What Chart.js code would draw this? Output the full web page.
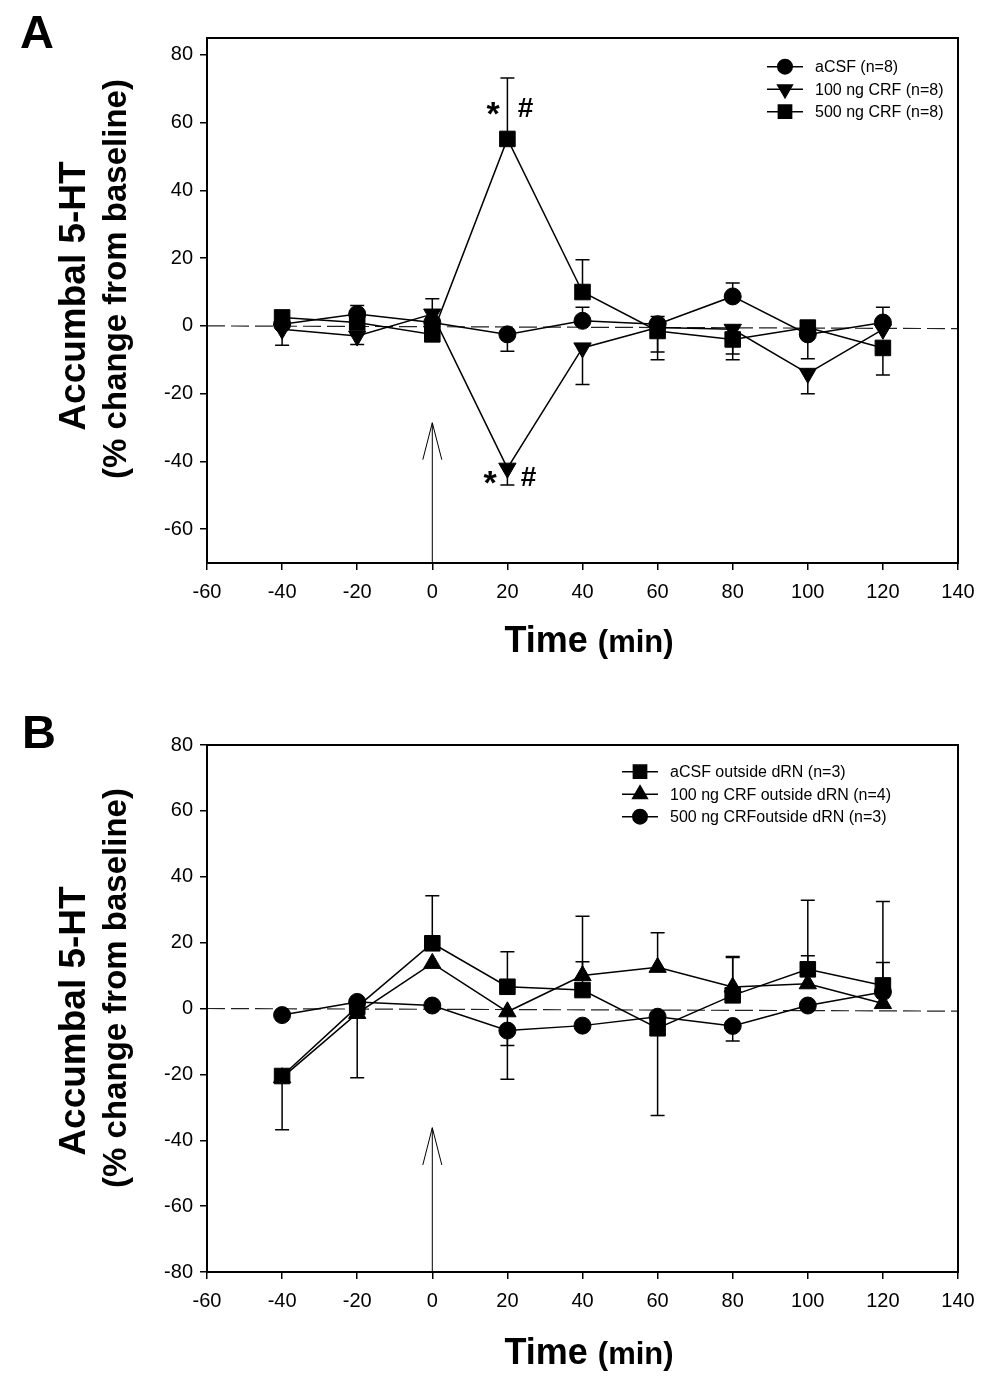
<!DOCTYPE html>
<html>
<head>
<meta charset="utf-8">
<script src="https://cdn.jsdelivr.net/npm/chart.js@4.4.1/dist/chart.umd.min.js"></script>
<style>
  html, body { margin: 0; padding: 0; background: #fff; }
  canvas { display: block; }
</style>
</head>
<body>
<canvas id="chartA" width="996" height="690"></canvas>
<canvas id="chartB" width="996" height="691"></canvas>
<script>
// data (time in min, % change from baseline)
const times = [-40, -20, 0, 20, 40, 60, 80, 100, 120];
const xTicks = [-60, -40, -20, 0, 20, 40, 60, 80, 100, 120, 140];
const yTicksA = [-60, -40, -20, 0, 20, 40, 60, 80];
const yTicksB = [-80, -60, -40, -20, 0, 20, 40, 60, 80];

// panel A, error values are signed: + drawn up, - drawn down
const aCSF_A      = [0.5, 3.5, 1, -2.5, 1.5, 0.5, 8.7, -2.5, 1];
const aCSF_A_err  = [0, 2.5, 0, -5, 4, 2.3, 4, -7.2, 4.5];
const crf100_A     = [-1, -3, 3.5, -42, -6.5, -0.5, -1, -14, -1];
const crf100_A_err = [-4.7, -2.5, 4.5, -5, -10.8, -7.2, -7.3, -6, 0];
const crf500_A     = [2.5, 1, -2.5, 55.2, 10, -1.5, -4, -0.5, -6.5];
const crf500_A_err = [2, 0, 0, 18, 9.5, -8.5, -6, 0, -8];

// panel B
const aCSF_B      = [-20.5, 0.5, 19.8, 6.6, 5.6, -6, 4, 11.9, 7];
const aCSF_B_err  = [-16.3, 0, 14.4, 10.6, 8.6, -26.5, 11.8, 21, 25.5];
const crf100_B     = [-21, -1.5, 13.7, -1, 10, 12.5, 6.5, 7.5, 1.5];
const crf100_B_err = [0, -19.5, 0, -20.5, 18, 10.5, 9, 8.5, 0];
const crf500_B     = [-2, 2, 0.9, -6.7, -5.2, -2.5, -5.3, 0.9, 5];
const crf500_B_err = [0, 0, 0, -4.5, 0, 0, -4.6, 0, 9];

// dashed baseline and injection arrow
const baselineX = [-60, 140];
const baselineY = [0, -0.8];
const arrowA = { x: 0, tip: -28.6, barb: -39.5 };
const arrowB = { x: 0, tip: -36.2, barb: -47.5 };

// significance marks in panel A
const marksA = [
  { text: '*', x: 16.2, y: 64 },
  { text: '#', x: 24.8, y: 64 },
  { text: '*', x: 15.4, y: -45 },
  { text: '#', x: 25.6, y: -45 }
];

const FONT = "'Liberation Sans', Arial, Helvetica, sans-serif";

function series(label, values, errs, style, rotation, radius) {
  return {
    label: label,
    data: times.map((t, i) => ({ x: t, y: values[i] })),
    errs: errs,
    legend: true,
    borderColor: '#000',
    backgroundColor: '#000',
    borderWidth: 1.5,
    pointStyle: style,
    pointRotation: rotation,
    pointRadius: radius,
    pointHoverRadius: radius,
    pointBorderWidth: 1,
    showLine: true,
    tension: 0,
    order: 1
  };
}

function baseline() {
  return {
    label: 'baseline',
    data: baselineX.map((x, i) => ({ x: x, y: baselineY[i] })),
    borderColor: '#222',
    borderWidth: 1.2,
    borderDash: [18, 6],
    pointRadius: 0,
    showLine: true,
    order: 10
  };
}

const errorBars = {
  id: 'errorBars',
  beforeDatasetsDraw(chart) {
    const ctx = chart.ctx, xs = chart.scales.x, ys = chart.scales.y;
    ctx.save();
    ctx.strokeStyle = '#000';
    ctx.lineWidth = 1.5;
    chart.data.datasets.forEach(ds => {
      if (!ds.errs) return;
      ds.data.forEach((p, i) => {
        const e = ds.errs[i];
        if (!e) return;
        const px = xs.getPixelForValue(p.x);
        const y0 = ys.getPixelForValue(p.y);
        const y1 = ys.getPixelForValue(p.y + e);
        ctx.beginPath();
        ctx.moveTo(px, y0); ctx.lineTo(px, y1);
        ctx.moveTo(px - 7, y1); ctx.lineTo(px + 7, y1);
        ctx.stroke();
      });
    });
    ctx.restore();
  }
};

function marker(ctx, style, rot, r, x, y) {
  if (Chart.helpers && Chart.helpers.drawPoint) {
    Chart.helpers.drawPoint(ctx, { pointStyle: style, rotation: rot, radius: r, borderWidth: 1 }, x, y);
  }
}

const decor = {
  id: 'decor',
  afterDraw(chart, args, o) {
    const ctx = chart.ctx, a = chart.chartArea;
    const xs = chart.scales.x, ys = chart.scales.y;
    ctx.save();
    // frame
    ctx.strokeStyle = '#000';
    ctx.lineWidth = 2;
    ctx.strokeRect(a.left, a.top, a.right - a.left, a.bottom - a.top);

    // arrow at injection time
    const ax = xs.getPixelForValue(o.arrow.x);
    const tip = ys.getPixelForValue(o.arrow.tip);
    const barb = ys.getPixelForValue(o.arrow.barb);
    ctx.lineWidth = 1;
    ctx.beginPath();
    ctx.moveTo(ax, a.bottom); ctx.lineTo(ax, tip);
    ctx.moveTo(ax - 9.5, barb); ctx.lineTo(ax, tip); ctx.lineTo(ax + 9.5, barb);
    ctx.stroke();

    // significance marks
    ctx.fillStyle = '#000';
    ctx.textAlign = 'center';
    ctx.textBaseline = 'middle';
    (o.marks || []).forEach(m => {
      ctx.font = (m.text === '*' ? 'bold 34px ' : 'bold 28px ') + FONT;
      const dy = m.text === '*' ? 6 : 0;
      ctx.fillText(m.text, xs.getPixelForValue(m.x), ys.getPixelForValue(m.y) + dy);
    });

    // legend
    ctx.textAlign = 'left';
    ctx.font = '16px ' + FONT;
    const lx = a.right - o.legendDx;
    let row = 0;
    chart.data.datasets.forEach(ds => {
      if (!ds.legend) return;
      const ly = a.top + o.legendTop + row * 22.5;
      ctx.lineWidth = 1.5;
      ctx.beginPath(); ctx.moveTo(lx - 18, ly); ctx.lineTo(lx + 18, ly); ctx.stroke();
      marker(ctx, ds.pointStyle, ds.pointRotation, ds.pointRadius * 0.85, lx, ly);
      ctx.fillText(ds.label, lx + 30, ly + 1);
      row++;
    });

    // panel letter
    ctx.textBaseline = 'alphabetic';
    ctx.font = 'bold 47px ' + FONT;
    ctx.fillText(o.letter, o.letterX, o.letterY);

    // y axis title, two lines
    ctx.textAlign = 'center';
    ctx.save();
    ctx.translate(85, o.yTitle1);
    ctx.rotate(-Math.PI / 2);
    ctx.font = 'bold 37px ' + FONT;
    ctx.fillText('Accumbal 5-HT', 0, 0);
    ctx.restore();
    ctx.save();
    ctx.translate(126, o.yTitle2);
    ctx.rotate(-Math.PI / 2);
    ctx.font = 'bold 33px ' + FONT;
    ctx.fillText('(% change from baseline)', 0, 0);
    ctx.restore();

    // x axis title
    ctx.textAlign = 'left';
    ctx.font = 'bold 36px ' + FONT;
    const w1 = ctx.measureText('Time ').width;
    ctx.font = 'bold 31px ' + FONT;
    const w2 = ctx.measureText('(min)').width;
    const sx = 589 - (w1 + w2) / 2;
    ctx.font = 'bold 36px ' + FONT;
    ctx.fillText('Time ', sx, o.xTitleY);
    ctx.font = 'bold 31px ' + FONT;
    ctx.fillText('(min)', sx + w1, o.xTitleY);
    ctx.restore();
  }
};

function makeChart(id, datasets, yMin, yMax, yTicks, padTop, xAxisH, deco) {
  return new Chart(document.getElementById(id), {
    type: 'line',
    data: { datasets: datasets },
    plugins: [errorBars, decor],
    options: {
      responsive: false,
      animation: false,
      events: [],
      layout: { padding: { left: 0, right: 38, top: padTop, bottom: 0 } },
      plugins: {
        legend: { display: false },
        tooltip: { enabled: false },
        decor: deco
      },
      scales: {
        x: {
          type: 'linear', min: -60, max: 140,
          afterBuildTicks: s => { s.ticks = xTicks.map(v => ({ value: v })); },
          afterFit: s => { s.height = xAxisH; },
          ticks: { color: '#000', font: { family: FONT, size: 20 }, padding: 10, maxRotation: 0 },
          grid: { drawOnChartArea: false, drawTicks: true, tickLength: 7, color: '#000', lineWidth: 1.5 },
          border: { display: true, color: '#000', width: 2 }
        },
        y: {
          type: 'linear', min: yMin, max: yMax,
          afterBuildTicks: s => { s.ticks = yTicks.map(v => ({ value: v })); },
          afterFit: s => { s.width = 207; },
          ticks: { color: '#000', font: { family: FONT, size: 20 }, padding: 7 },
          grid: { drawOnChartArea: false, drawTicks: true, tickLength: 7, color: '#000', lineWidth: 1.5 },
          border: { display: true, color: '#000', width: 2 }
        }
      }
    }
  });
}

makeChart('chartA', [
  series('aCSF (n=8)', aCSF_A, aCSF_A_err, 'circle', 0, 8.5),
  series('100 ng CRF (n=8)', crf100_A, crf100_A_err, 'triangle', 180, 10),
  series('500 ng CRF (n=8)', crf500_A, crf500_A_err, 'rect', 0, 11),
  baseline()
], -70, 85, yTicksA, 38, 127, {
  arrow: arrowA, marks: marksA, legendDx: 173, legendTop: 28.7,
  letter: 'A', letterX: 20, letterY: 48, yTitle1: 296, yTitle2: 279, xTitleY: 652
});

makeChart('chartB', [
  series('aCSF outside dRN (n=3)', aCSF_B, aCSF_B_err, 'rect', 0, 11),
  series('100 ng CRF outside dRN (n=4)', crf100_B, crf100_B_err, 'triangle', 0, 10),
  series('500 ng CRFoutside dRN (n=3)', crf500_B, crf500_B_err, 'circle', 0, 8.5),
  baseline()
], -80, 80, yTicksB, 55, 109, {
  arrow: arrowB, marks: [], legendDx: 318, legendTop: 26.7,
  letter: 'B', letterX: 22, letterY: 58, yTitle1: 331, yTitle2: 298, xTitleY: 674
});
</script>
</body>
</html>
